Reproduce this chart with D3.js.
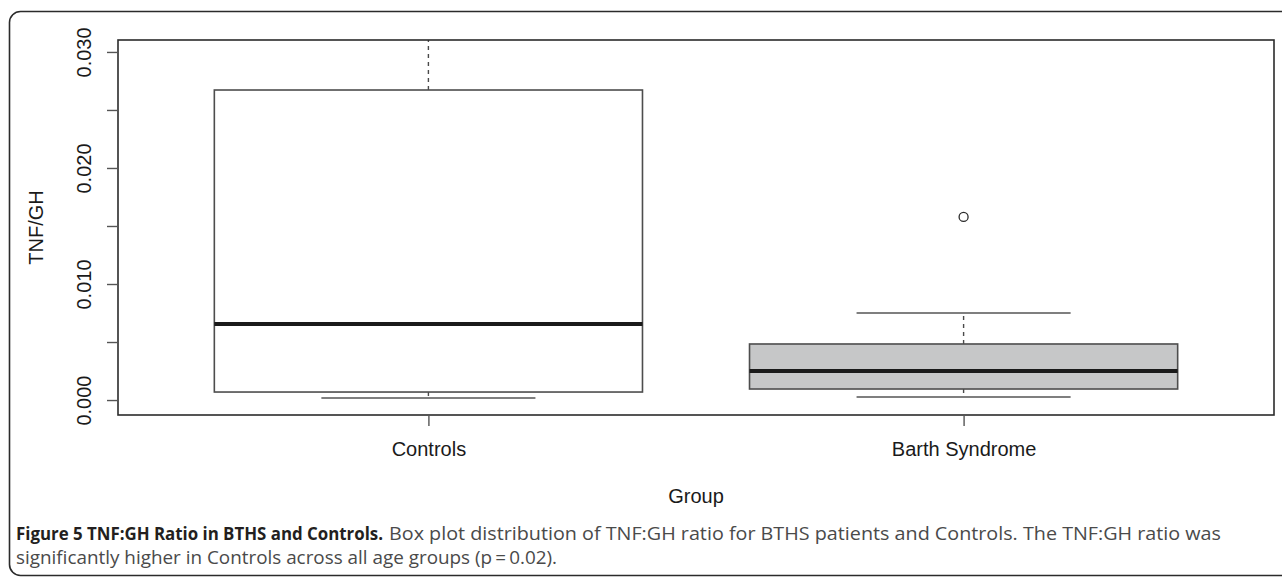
<!DOCTYPE html>
<html>
<head>
<meta charset="utf-8">
<script src="https://cdn.jsdelivr.net/npm/d3@7"></script>
<style>
  body { margin: 0; background: #fff; }
  svg { display: block; }
  .axis text { font-family: "Liberation Sans", Arial, sans-serif; font-size: 20px; fill: #1a1a1a; }
  .caption { font-family: "Open Sans", "Noto Sans", sans-serif; font-size: 18px; }
</style>
</head>
<body>
<svg width="1282" height="577"></svg>
<script>
// box plot statistics
var groups = ["Controls", "Barth Syndrome"];
var whiskerLow = [0.00017, 0.00026];
var q1 = [0.00069, 0.00095];
var median = [0.00655, 0.0025];
var q3 = [0.02672, 0.00483];
var whiskerHigh = [0.0345, 0.0075];
var outliers = [[], [0.01578]];

var yTicks = [0, 0.005, 0.010, 0.015, 0.020, 0.025, 0.030];
var yTickLabels = ["0.000", "", "0.010", "", "0.020", "", "0.030"];

var fills = ["#ffffff", "#c6c7c8"];

var svg = d3.select("svg");

// figure frame (rounded on the left, runs off on the right)
svg.append("rect")
    .attr("x", 9.5).attr("y", 11.5)
    .attr("width", 1300).attr("height", 564)
    .attr("rx", 11).attr("ry", 11)
    .attr("fill", "none")
    .attr("stroke", "#2b2b2b")
    .attr("stroke-width", 1.6);

var pLeft = 118, pRight = 1274, pTop = 40, pBottom = 415;

var x = d3.scaleLinear().domain([0.42, 2.58]).range([pLeft, pRight]);
var y = d3.scaleLinear().domain([-0.00129, 0.03103]).range([pBottom, pTop]);

svg.append("clipPath").attr("id", "plotclip")
    .append("rect")
    .attr("x", pLeft).attr("y", pTop)
    .attr("width", pRight - pLeft).attr("height", pBottom - pTop);

var plot = svg.append("g").attr("clip-path", "url(#plotclip)");

var data = groups.map(function (g, i) {
    return { name: g, pos: i + 1, lo: whiskerLow[i], q1: q1[i], med: median[i], q3: q3[i], hi: whiskerHigh[i], out: outliers[i], fill: fills[i] };
});

var bw = 0.8, cw = 0.4;

var box = plot.selectAll(".box").data(data).enter().append("g").attr("class", "box");

// dashed whiskers
box.append("line")
    .attr("x1", function (d) { return x(d.pos); })
    .attr("x2", function (d) { return x(d.pos); })
    .attr("y1", function (d) { return y(d.q3); })
    .attr("y2", function (d) { return y(d.hi); })
    .attr("stroke", "#4a4a4a").attr("stroke-width", 1.4)
    .attr("stroke-dasharray", "4,4");
box.append("line")
    .attr("x1", function (d) { return x(d.pos); })
    .attr("x2", function (d) { return x(d.pos); })
    .attr("y1", function (d) { return y(d.q1); })
    .attr("y2", function (d) { return y(d.lo); })
    .attr("stroke", "#4a4a4a").attr("stroke-width", 1.4)
    .attr("stroke-dasharray", "4,4");

// whisker caps
box.append("line")
    .attr("x1", function (d) { return x(d.pos - cw / 2); })
    .attr("x2", function (d) { return x(d.pos + cw / 2); })
    .attr("y1", function (d) { return y(d.hi); })
    .attr("y2", function (d) { return y(d.hi); })
    .attr("stroke", "#555").attr("stroke-width", 1.6);
box.append("line")
    .attr("x1", function (d) { return x(d.pos - cw / 2); })
    .attr("x2", function (d) { return x(d.pos + cw / 2); })
    .attr("y1", function (d) { return y(d.lo); })
    .attr("y2", function (d) { return y(d.lo); })
    .attr("stroke", "#555").attr("stroke-width", 1.6);

// boxes
box.append("rect")
    .attr("x", function (d) { return x(d.pos - bw / 2); })
    .attr("y", function (d) { return y(d.q3); })
    .attr("width", function (d) { return x(d.pos + bw / 2) - x(d.pos - bw / 2); })
    .attr("height", function (d) { return y(d.q1) - y(d.q3); })
    .attr("fill", function (d) { return d.fill; })
    .attr("stroke", "#4d4d4d").attr("stroke-width", 1.6);

// medians
box.append("line")
    .attr("x1", function (d) { return x(d.pos - bw / 2); })
    .attr("x2", function (d) { return x(d.pos + bw / 2); })
    .attr("y1", function (d) { return y(d.med); })
    .attr("y2", function (d) { return y(d.med); })
    .attr("stroke", "#1a1a1a").attr("stroke-width", 4);

// outliers
box.selectAll(".out")
    .data(function (d) { return d.out.map(function (v) { return { pos: d.pos, v: v }; }); })
    .enter().append("circle")
    .attr("class", "out")
    .attr("cx", function (d) { return x(d.pos); })
    .attr("cy", function (d) { return y(d.v); })
    .attr("r", 4.5)
    .attr("fill", "none")
    .attr("stroke", "#2b2b2b").attr("stroke-width", 1.3);

// plot frame
svg.append("rect")
    .attr("x", pLeft).attr("y", pTop)
    .attr("width", pRight - pLeft).attr("height", pBottom - pTop)
    .attr("fill", "none")
    .attr("stroke", "#2b2b2b").attr("stroke-width", 1.6);

// y axis
var yAxis = svg.append("g")
    .attr("class", "axis")
    .attr("transform", "translate(" + pLeft + ",0)")
    .call(d3.axisLeft(y).tickValues(yTicks).tickSize(11).tickSizeOuter(0)
        .tickFormat(function (d, i) { return yTickLabels[i]; }));
yAxis.select(".domain").remove();
yAxis.selectAll(".tick line").attr("stroke", "#555").attr("stroke-width", 1.4);
yAxis.selectAll(".tick text")
    .attr("transform", "rotate(-90)")
    .attr("x", 0).attr("y", -27).attr("dy", 0)
    .attr("text-anchor", "middle");

// x axis
var xAxis = svg.append("g")
    .attr("class", "axis")
    .attr("transform", "translate(0," + pBottom + ")")
    .call(d3.axisBottom(x).tickValues([1, 2]).tickSize(11).tickSizeOuter(0)
        .tickFormat(function (d) { return groups[d - 1]; }));
xAxis.select(".domain").remove();
xAxis.selectAll(".tick line").attr("stroke", "#555").attr("stroke-width", 1.4);
xAxis.selectAll(".tick text").attr("y", 41).attr("dy", 0);

// axis titles
svg.append("text")
    .attr("x", (pLeft + pRight) / 2).attr("y", 503)
    .attr("text-anchor", "middle")
    .style("font-family", "Liberation Sans, Arial, sans-serif")
    .style("font-size", "20px").attr("fill", "#1a1a1a")
    .text("Group");

svg.append("text")
    .attr("transform", "translate(43," + (pTop + pBottom) / 2 + ") rotate(-90)")
    .attr("text-anchor", "middle")
    .style("font-family", "Liberation Sans, Arial, sans-serif")
    .style("font-size", "20px").attr("fill", "#1a1a1a")
    .text("TNF/GH");

// caption
svg.append("text")
    .attr("class", "caption")
    .attr("x", 16).attr("y", 540)
    .attr("font-weight", "bold").attr("fill", "#231f20")
    .attr("textLength", 367).attr("lengthAdjust", "spacingAndGlyphs")
    .text("Figure 5 TNF:GH Ratio in BTHS and Controls.");
svg.append("text")
    .attr("class", "caption")
    .attr("x", 389).attr("y", 540)
    .attr("fill", "#4a4a4a")
    .attr("textLength", 832).attr("lengthAdjust", "spacingAndGlyphs")
    .text("Box plot distribution of TNF:GH ratio for BTHS patients and Controls. The TNF:GH ratio was");
svg.append("text")
    .attr("class", "caption")
    .attr("x", 16).attr("y", 564)
    .attr("fill", "#4a4a4a")
    .attr("textLength", 541).attr("lengthAdjust", "spacingAndGlyphs")
    .text("significantly higher in Controls across all age groups (p\u2009=\u20090.02).");
</script>
</body>
</html>
